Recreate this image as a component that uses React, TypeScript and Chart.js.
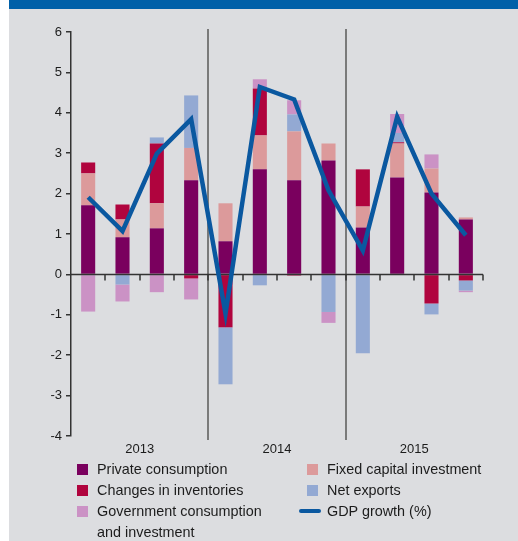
import React, { useEffect, useRef } from "react";
import { Chart, registerables } from "chart.js";

Chart.register(...registerables);

const quarters = [
  "Q1 2013", "Q2 2013", "Q3 2013", "Q4 2013",
  "Q1 2014", "Q2 2014", "Q3 2014", "Q4 2014",
  "Q1 2015", "Q2 2015", "Q3 2015", "Q4 2015",
];
const years = ["2013", "2014", "2015"];
const yTicks = [-4, -3, -2, -1, 0, 1, 2, 3, 4, 5, 6];

const privateConsumption = [1.71, 0.92, 1.14, 2.33, 0.82, 2.6, 2.33, 2.82, 1.16, 2.4, 2.03, 1.36];
const fixedInvestment = [0.79, 0.44, 0.62, 0.8, 0.94, 0.84, 1.21, 0.42, 0.52, 0.84, 0.59, 0.05];
const inventories = [0.27, 0.37, 1.48, -0.1, -1.31, 1.16, -0.03, 0, 0.92, 0.03, -0.72, -0.15];
const netExports = [-0.02, -0.25, 0.15, 1.3, -1.41, -0.27, 0.42, -0.93, -1.95, 0.23, -0.27, -0.25];
const government = [-0.9, -0.42, -0.44, -0.52, 0, 0.23, 0.35, -0.27, 0, 0.47, 0.35, -0.04];
const gdpGrowth = [1.91, 1.07, 2.99, 3.84, -0.97, 4.64, 4.33, 2.08, 0.59, 3.9, 2.0, 0.97];

const FONT = '"Liberation Sans", Arial, sans-serif';
const TEXT = "#1c1c1c";
const COLORS = {
  private: "#7a005e",
  fixed: "#dc9a9b",
  inventories: "#b0043e",
  net: "#93a9d3",
  gov: "#cb92c5",
  gdp: "#0a58a0",
};

const decorPlugin = {
  id: "decor",
  beforeDatasetsDraw(chart: any) {
    const { ctx, chartArea, scales } = chart;
    const x = scales.x;
    const w = (chartArea.right - chartArea.left) / quarters.length;
    ctx.save();
    ctx.strokeStyle = "#7a7a7a";
    ctx.lineWidth = 2;
    for (let k = 1; k < years.length; k++) {
      const px = Math.round(chartArea.left + k * 4 * w);
      ctx.beginPath();
      ctx.moveTo(px, chartArea.top - 3);
      ctx.lineTo(px, chartArea.bottom + 4);
      ctx.stroke();
    }
    ctx.fillStyle = TEXT;
    ctx.font = `13px ${FONT}`;
    ctx.textAlign = "center";
    ctx.textBaseline = "middle";
    years.forEach((yr, k) => {
      const cx = (x.getPixelForValue(k * 4 + 1) + x.getPixelForValue(k * 4 + 2)) / 2;
      ctx.fillText(yr, cx, chartArea.bottom + 13);
    });
    ctx.restore();
  },
  beforeDatasetDraw(chart: any, args: any) {
    if (args.meta.type !== "line") return;
    const { ctx, chartArea, scales } = chart;
    const y0 = scales.y.getPixelForValue(0);
    const w = (chartArea.right - chartArea.left) / quarters.length;
    ctx.save();
    ctx.strokeStyle = "#333";
    ctx.lineWidth = 1.5;
    ctx.beginPath();
    ctx.moveTo(chartArea.left, y0);
    ctx.lineTo(chartArea.right, y0);
    ctx.stroke();
    for (let i = 1; i <= quarters.length; i++) {
      const px = Math.round(chartArea.left + i * w);
      ctx.beginPath();
      ctx.moveTo(px, y0);
      ctx.lineTo(px, y0 + 6);
      ctx.stroke();
    }
    ctx.restore();
  },
};

export default function App() {
  const ref = useRef<HTMLCanvasElement | null>(null);

  useEffect(() => {
    if (!ref.current) return;
    const barCommon = {
      type: "bar" as const,
      stack: "contrib",
      order: 1,
      categoryPercentage: 1,
      barPercentage: 0.41,
      borderWidth: 0,
    };
    const chart = new Chart(ref.current, {
      type: "bar",
      data: {
        labels: quarters,
        datasets: [
          { ...barCommon, label: "Private consumption", data: privateConsumption, backgroundColor: COLORS.private },
          { ...barCommon, label: "Fixed capital investment", data: fixedInvestment, backgroundColor: COLORS.fixed },
          { ...barCommon, label: "Changes in inventories", data: inventories, backgroundColor: COLORS.inventories },
          { ...barCommon, label: "Net exports", data: netExports, backgroundColor: COLORS.net },
          { ...barCommon, label: "Government consumption and investment", data: government, backgroundColor: COLORS.gov },
          {
            type: "line" as const,
            label: "GDP growth (%)",
            data: gdpGrowth,
            stack: "gdp",
            order: 0,
            borderColor: COLORS.gdp,
            backgroundColor: COLORS.gdp,
            borderWidth: 4.5,
            pointRadius: 0,
            tension: 0,
            fill: false,
          } as any,
        ],
      },
      options: {
        animation: false,
        responsive: false,
        maintainAspectRatio: false,
        layout: { padding: { top: 32, right: 35, bottom: 105, left: 0 } },
        plugins: { legend: { display: false }, tooltip: { enabled: false }, title: { display: false } },
        scales: {
          x: { display: false, stacked: true, offset: true },
          y: {
            stacked: true,
            min: yTicks[0],
            max: yTicks[yTicks.length - 1],
            afterFit: (s: any) => {
              s.width = 71;
            },
            ticks: {
              stepSize: 1,
              color: TEXT,
              padding: 4,
              font: { size: 13, family: FONT },
            },
            grid: {
              display: true,
              drawOnChartArea: false,
              drawTicks: true,
              tickLength: 5,
              color: "#333",
              lineWidth: 1.5,
            },
            border: { display: true, color: "#333", width: 1.5 },
          },
        },
      },
      plugins: [decorPlugin],
    });
    return () => chart.destroy();
  }, []);

  const legendLeft = [
    { label: "Private consumption", color: COLORS.private },
    { label: "Changes in inventories", color: COLORS.inventories },
    { label: "Government consumption", color: COLORS.gov, extra: "and investment" },
  ];
  const legendRight = [
    { label: "Fixed capital investment", color: COLORS.fixed },
    { label: "Net exports", color: COLORS.net },
    { label: "GDP growth (%)", color: COLORS.gdp, line: true },
  ];

  const textStyle: React.CSSProperties = {
    position: "absolute",
    fontFamily: FONT,
    fontSize: "14.4px",
    color: TEXT,
    lineHeight: "21px",
    whiteSpace: "nowrap",
  };

  return (
    <div style={{ position: "absolute", left: 0, top: 0, width: 518, height: 541, background: "#fff", overflow: "hidden" }}>
      <div style={{ position: "absolute", left: 9, top: 0, width: 509, height: 541, background: "#dcdde0" }} />
      <div style={{ position: "absolute", left: 9, top: 0, width: 509, height: 9, background: "#0060a8" }} />
      <canvas ref={ref} width={518} height={541} style={{ position: "absolute", left: 0, top: 0, width: 518, height: 541 }} />
      {legendLeft.map((it, i) => (
        <React.Fragment key={it.label}>
          <div style={{ position: "absolute", left: 77, top: 464 + i * 21, width: 11, height: 11, background: it.color }} />
          <div style={{ ...textStyle, left: 97, top: 459 + i * 21 }}>
            {it.label}
            {it.extra ? <><br />{it.extra}</> : null}
          </div>
        </React.Fragment>
      ))}
      {legendRight.map((it, i) => (
        <React.Fragment key={it.label}>
          {it.line ? (
            <div style={{ position: "absolute", left: 299, top: 467 + i * 21, width: 22, height: 4, borderRadius: 2, background: it.color }} />
          ) : (
            <div style={{ position: "absolute", left: 307, top: 464 + i * 21, width: 11, height: 11, background: it.color }} />
          )}
          <div style={{ ...textStyle, left: 327, top: 459 + i * 21 }}>{it.label}</div>
        </React.Fragment>
      ))}
    </div>
  );
}
